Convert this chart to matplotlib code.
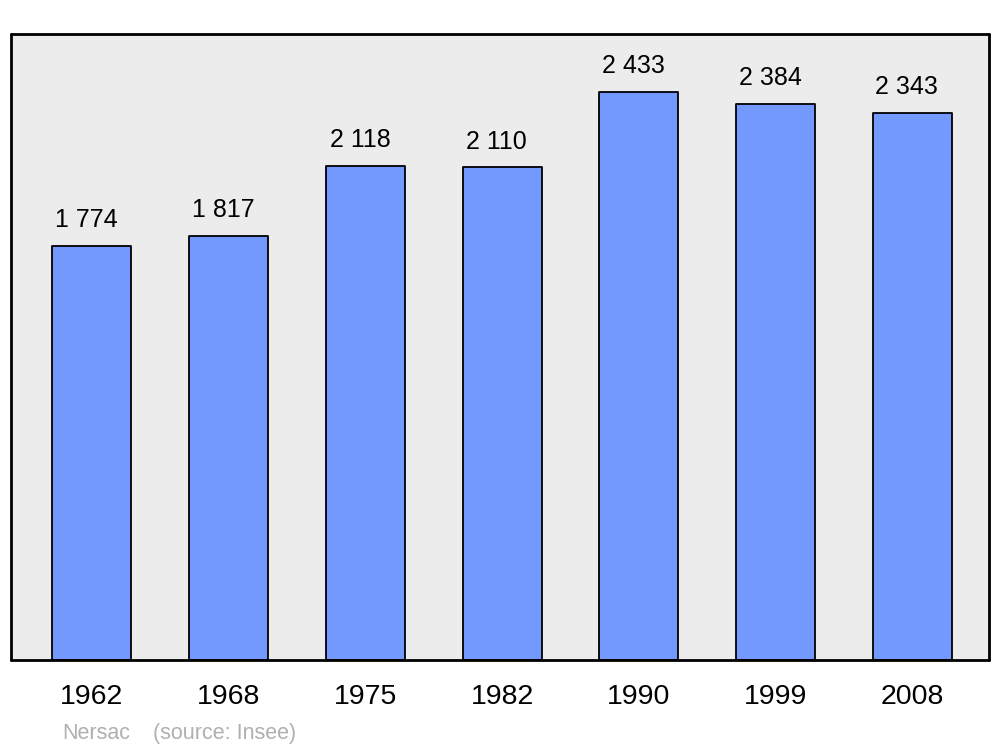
import matplotlib.pyplot as plt

plt.rcParams['font.family'] = ['Liberation Sans', 'DejaVu Sans']

years = ["1962", "1968", "1975", "1982", "1990", "1999", "2008"]
population = [1774, 1817, 2118, 2110, 2433, 2384, 2343]
value_labels = ["1 774", "1 817", "2 118", "2 110", "2 433", "2 384", "2 343"]

fig = plt.figure(figsize=(10, 7.47), dpi=100)
ax = fig.add_axes([0.011, 0.1165, 0.978, 0.838])
ax.set_facecolor("#ececec")

x = list(range(len(years)))
bars = ax.bar(x, population, width=0.578, color="#7399ff",
              edgecolor="black", linewidth=1.3, zorder=2)
for b in bars:
    b.set_joinstyle("round")

for xi, v, lab in zip(x, population, value_labels):
    ax.annotate(lab, (xi, v), xytext=(-4, 10), textcoords="offset points",
                ha="center", va="bottom", fontsize=18)

ax.set_xlim(-0.592, 6.56)
ax.set_ylim(0, 2682)
ax.set_xticks(x)
ax.set_xticklabels(years, fontsize=20.5)
ax.tick_params(axis="x", length=0, pad=17)
ax.set_yticks([])
for s in ax.spines.values():
    s.set_linewidth(2)
    s.set_capstyle("round")

fig.text(0.062, 0.011, "Nersac", color="#b0b0b0", fontsize=15.5)
fig.text(0.153, 0.011, "(source: Insee)", color="#b0b0b0", fontsize=15.5)

fig.savefig("out.png", dpi=100)
